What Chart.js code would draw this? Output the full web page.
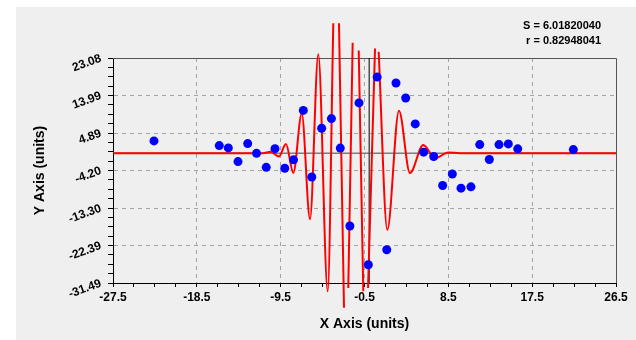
<!DOCTYPE html>
<html>
<head>
<meta charset="utf-8">
<script src="https://cdn.jsdelivr.net/npm/chart.js@4/dist/chart.umd.min.js"></script>
<style>
  html, body { margin: 0; padding: 0; background: #fff; }
  #wrap { position: absolute; left: 16px; top: 7px; width: 620px; height: 333px; background: #efefef; }
</style>
</head>
<body>
<div id="wrap"><canvas id="fitChart" width="620" height="333"></canvas></div>
<script>
// measured points
const pointX = [-23.10, -16.09, -15.12, -14.08, -13.04, -12.09, -11.05, -10.11, -9.06, -8.12,
  -7.07, -6.16, -5.10, -4.05, -3.10, -2.07, -1.09, -0.09, 0.86, 1.89,
  2.88, 3.92, 4.95, 5.85, 6.93, 7.89, 8.93, 9.86, 10.93, 11.87,
  12.90, 13.94, 14.94, 15.95, 21.92];
const pointY = [2.98, 1.84, 1.28, -2.04, 2.32, -0.05, -3.44, 1.09, -3.66, -1.62,
  10.37, -5.79, 6.05, 8.38, 1.23, -17.66, 12.18, -27.05, 18.45, -23.42,
  17.03, 13.39, 7.10, 0.24, -0.82, -7.85, -5.06, -8.48, -8.16, 2.08,
  -1.55, 2.08, 2.25, 1.04, 0.87];

// fitted curve (null = curve leaves the drawing)
const curveX = [-27.5, -11.4, -10.6, -9.7, -8.93, -8.14, -7.24, -6.35, -5.46, -4.45,
  -3.85, -3.55, -3.24, -2.70, -2.47, -2.24, -1.77, -1.45, -1.12, -0.63,
  -0.38, -0.12, 0.63, 0.83, 1.02, 1.95, 3.20, 4.38, 5.81, 7.07,
  8.5, 9.75, 26.5];
const curveY = [0, 0, 0.35, -0.8, 2.2, -4.8, 9.6, -16.0, 24.0, -33.5,
  31.5, null, 31.5, -37.5, null, -32.7, 26.8, null, 24.9, -33.5,
  null, -32.7, 25.4, null, 24.6, -18.6, 10.3, -4.8, 2.0, -1.2,
  0.15, 0, 0];

const xTicks = [-27.5, -18.5, -9.5, -0.5, 8.5, 17.5, 26.5];
const xTickLabels = ['-27.5', '-18.5', '-9.5', '-0.5', '8.5', '17.5', '26.5'];
const yTicks = [-31.49, -22.39, -13.30, -4.20, 4.89, 13.99, 23.08];
const yTickLabels = ['-31.49', '-22.39', '-13.30', '-4.20', '4.89', '13.99', '23.08'];

const statS = '6.01820040';
const statR = '0.82948041';

const MINOR = 4;
function withMinor(major) {
  const out = [];
  for (let i = 0; i < major.length - 1; i++) {
    const step = (major[i + 1] - major[i]) / MINOR;
    for (let k = 0; k < MINOR; k++) out.push({ value: major[i] + k * step });
  }
  out.push({ value: major[major.length - 1] });
  return out;
}

const gridColor = (ctx, last) => {
  const i = ctx.index;
  if (i % MINOR !== 0 || i === 0 || i === last) return 'rgba(0,0,0,0)';
  return '#a3a3a3';
};

const tickFont = { family: 'Liberation Sans, Arial, sans-serif', size: 12, weight: 'bold' };
const titleFont = { family: 'Liberation Sans, Arial, sans-serif', size: 14, weight: 'bold' };

const framePlugin = {
  id: 'frame',
  beforeDatasetsDraw(chart) {
    const { ctx, chartArea: a } = chart;
    ctx.save();
    ctx.strokeStyle = '#555';
    ctx.lineWidth = 1;
    ctx.beginPath();
    ctx.moveTo(a.left, a.top + 0.5);
    ctx.lineTo(a.right + 0.5, a.top + 0.5);
    ctx.lineTo(a.right + 0.5, a.bottom);
    ctx.stroke();
    ctx.restore();
  },
  afterDraw(chart) {
    const { ctx } = chart;
    ctx.save();
    ctx.fillStyle = '#000';
    ctx.font = 'bold 11px "Liberation Sans", Arial, sans-serif';
    ctx.textAlign = 'right';
    ctx.textBaseline = 'middle';
    ctx.fillText('S = ' + statS, 585, 19);
    ctx.fillText('r = ' + statR, 585, 34);
    ctx.restore();
  }
};

const ctx = document.getElementById('fitChart').getContext('2d');
new Chart(ctx, {
  type: 'scatter',
  data: {
    datasets: [
      {
        label: 'data',
        data: pointX.map((x, i) => ({ x: x, y: pointY[i] })),
        pointRadius: 4.5,
        pointHoverRadius: 4.5,
        backgroundColor: '#0000ff',
        borderWidth: 0,
        order: 0
      },
      {
        label: 'fit',
        data: curveX.map((x, i) => ({ x: x, y: curveY[i] })),
        showLine: true,
        pointRadius: 0,
        borderColor: '#ff0000',
        borderWidth: 2,
        tension: 0.4,
        cubicInterpolationMode: 'monotone',
        spanGaps: false,
        clip: false,
        order: 1
      },
      {
        label: 'y0',
        data: [{ x: xTicks[0], y: 0 }, { x: xTicks[xTicks.length - 1], y: 0 }],
        showLine: true,
        pointRadius: 0,
        borderColor: '#444',
        borderWidth: 1,
        order: 2
      },
      {
        label: 'x0',
        data: [{ x: 0, y: yTicks[0] }, { x: 0, y: yTicks[yTicks.length - 1] }],
        showLine: true,
        pointRadius: 0,
        borderColor: '#000',
        borderWidth: 1,
        order: 2
      }
    ]
  },
  options: {
    responsive: false,
    animation: false,
    events: [],
    layout: { padding: { left: 0, top: 51, right: 20, bottom: 0 } },
    plugins: { legend: { display: false }, tooltip: { enabled: false } },
    scales: {
      x: {
        type: 'linear',
        min: xTicks[0],
        max: xTicks[xTicks.length - 1],
        afterBuildTicks: (scale) => { scale.ticks = withMinor(xTicks); },
        afterFit: (scale) => { scale.height = 57; },
        ticks: {
          autoSkip: false,
          maxRotation: 0,
          padding: 3,
          color: '#000',
          font: tickFont,
          callback: (v, i) => (i % MINOR === 0 ? xTickLabels[i / MINOR] : '')
        },
        grid: {
          color: (c) => gridColor(c, (xTicks.length - 1) * MINOR),
          tickColor: '#000',
          tickLength: 4,
          lineWidth: 1
        },
        border: { color: '#000', width: 1, dash: [4, 4] },
        title: { display: true, text: 'X Axis (units)', color: '#000', font: titleFont, padding: { top: 0, bottom: 7 } }
      },
      y: {
        type: 'linear',
        min: yTicks[0],
        max: yTicks[yTicks.length - 1],
        afterBuildTicks: (scale) => { scale.ticks = withMinor(yTicks); },
        afterFit: (scale) => { scale.width = 97; },
        ticks: {
          autoSkip: false,
          minRotation: 20,
          maxRotation: 20,
          padding: 7,
          color: '#000',
          font: tickFont,
          callback: (v, i) => (i % MINOR === 0 ? yTickLabels[i / MINOR] : '')
        },
        grid: {
          color: (c) => gridColor(c, (yTicks.length - 1) * MINOR),
          tickColor: '#000',
          tickLength: 5,
          lineWidth: 1
        },
        border: { color: '#000', width: 1, dash: [4, 4] },
        title: { display: true, text: 'Y Axis (units)', color: '#000', font: titleFont, padding: { top: 16, bottom: 0 } }
      }
    }
  },
  plugins: [framePlugin]
});
</script>
</body>
</html>
